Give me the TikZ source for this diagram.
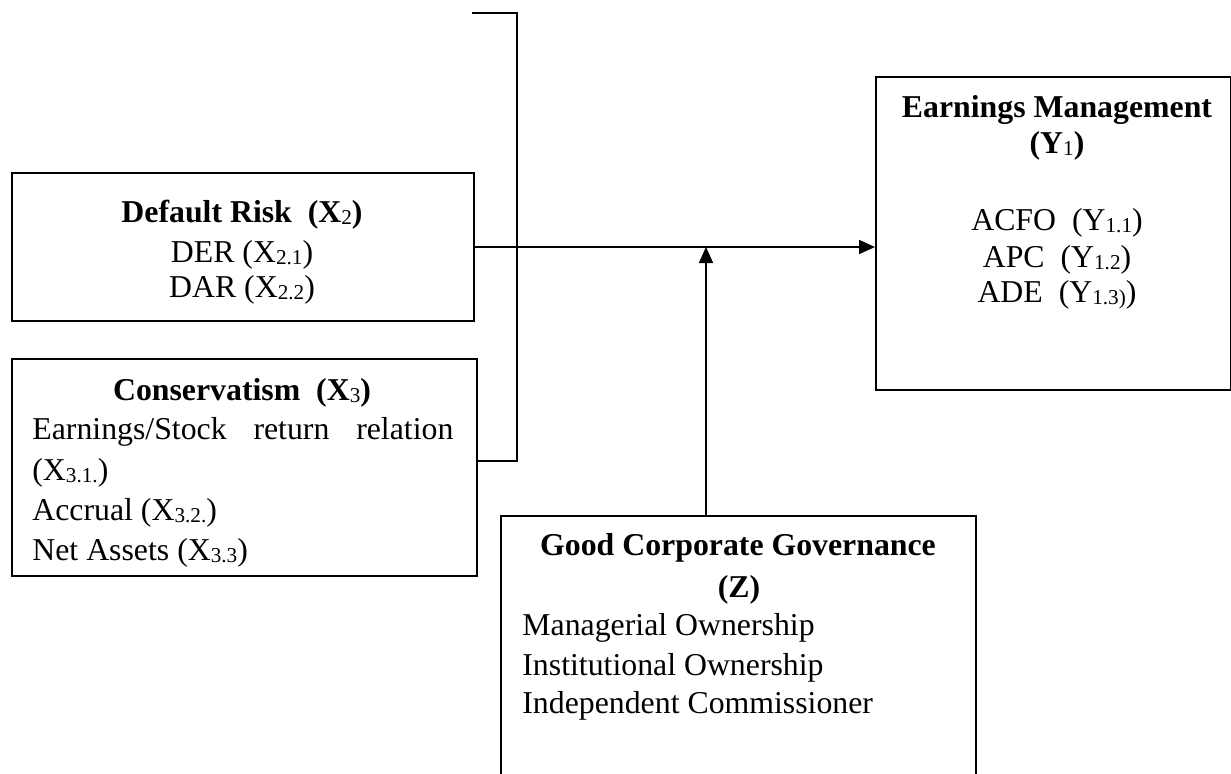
\documentclass[tikz,border=0pt]{standalone}
\usepackage{fontspec}
\setmainfont{Liberation Serif}
\usetikzlibrary{arrows.meta}
\newcommand{\sbs}[1]{\raisebox{-1pt}{\fontsize{10.6pt}{12pt}\selectfont\mdseries #1}}
\tikzset{
  boite/.style={draw,line width=1pt,inner sep=0pt,anchor=north west},
  ligne/.style={anchor=base,inner sep=0pt,font=\fontsize{15.9pt}{19pt}\selectfont},
  titre/.style={ligne,font=\fontsize{15.9pt}{19pt}\selectfont\bfseries},
  gauche/.style={ligne,anchor=base west},
  fleche/.style={line width=0.8pt,-{Triangle[length=8pt,width=7pt]}}
}
\begin{document}
\begin{tikzpicture}[x=0.5pt,y=-0.5pt]
  \useasboundingbox (0,0) rectangle (1231,773);
  % cadres
  \node[boite,minimum width=231pt,minimum height=74pt] (risk) at (11,172) {};
  \node[boite,minimum width=232.5pt,minimum height=108.5pt] (cons) at (11,358) {};
  \node[boite,minimum width=177.5pt,minimum height=156.5pt] (earn) at (875,76) {};
  \node[boite,minimum width=237.5pt,minimum height=150pt] (gcg) at (500,515) {};
  % textes
  \node (riskT) at (242,222) [titre] {Default Risk\ \ (X\sbs{2})};
  \node (riskA) at (242,262) [ligne] {DER (X\sbs{2.1})};
  \node (riskB) at (242,297) [ligne] {DAR (X\sbs{2.2})};
  \node (consT) at (242,400) [titre] {Conservatism\ \ (X\sbs{3})};
  \node (consA) at (32,439) [gauche] {\makebox[210.5pt][s]{Earnings/Stock return relation}};
  \node (consB) at (32,480) [gauche] {(X\sbs{3.1.})};
  \node (consC) at (32,520) [gauche] {Accrual (X\sbs{3.2.})};
  \node (consD) at (32,560) [gauche] {Net Assets (X\sbs{3.3})};
  \node (earnT) at (1057,117) [titre] {Earnings Management};
  \node (earnU) at (1057,153) [titre] {(Y\sbs{1})};
  \node (earnA) at (1057,230) [ligne] {ACFO\ \ (Y\sbs{1.1})};
  \node (earnB) at (1057,267) [ligne] {APC\ \ (Y\sbs{1.2})};
  \node (earnC) at (1057,302) [ligne] {ADE\ \ (Y\sbs{1.3)})};
  \node (gcgT) at (738,555) [titre] {Good Corporate Governance};
  \node (gcgU) at (739,597) [titre] {(Z)};
  \node (gcgA) at (522,635) [gauche] {Managerial Ownership};
  \node (gcgB) at (522,675) [gauche] {Institutional Ownership};
  \node (gcgC) at (522,713) [gauche] {Independent Commissioner};
  % liaisons
  \coordinate (hautG) at (472,13);
  \coordinate (hautD) at (517,13);
  \coordinate (basD) at (517,461);
  \coordinate (z) at (706,515);
  \draw[line width=0.8pt] (hautG) -- (hautD) -- (basD) -- (basD -| cons.east);
  \draw[fleche] (risk.east) -- (risk.east -| earn.west);
  \draw[fleche] (z) -- (z |- risk.east);
\end{tikzpicture}
\end{document}
